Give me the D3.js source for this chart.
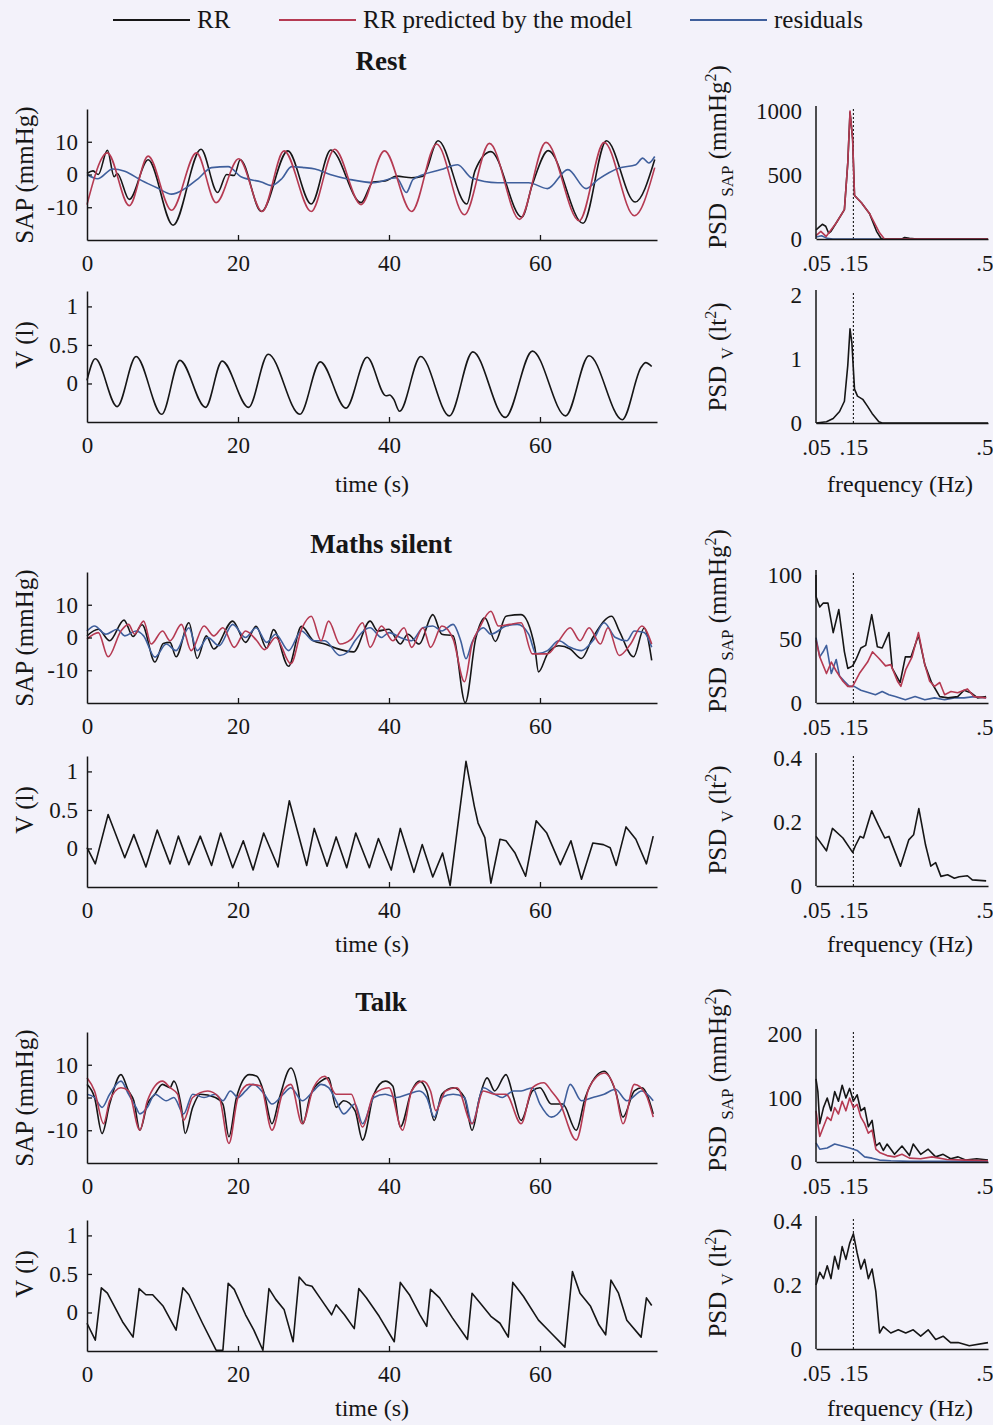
<!DOCTYPE html>
<html>
<head>
<meta charset="utf-8">
<script src="https://cdn.jsdelivr.net/npm/d3@7"></script>
<style>
  body { margin: 0; background: #f3f2fa; }
  svg { display: block; font-family: "Liberation Serif", "Times New Roman", serif; }
</style>
</head>
<body>
<div id="viz"></div>
<script>
// ---- data: [time (s), value] and [frequency (Hz), PSD] ----
var restSapRR = [[0,0.3],[0.8,1.1],[1.5,0],[2.7,7.4],[3.6,-0.7],[4.0,0.3],[5.6,-7.6],[8.1,4.5],[11.4,-15.5],[15.1,7.7],[17.3,-5.5],[18.5,0],[19.5,-0.3],[20.3,4.5],[23.1,-11.3],[26.6,7.2],[29.7,-9],[32.3,7.5],[36.3,-8.6],[37.9,-2.3],[39.5,-2.0],[41,-0.5],[43,-1],[44.5,-0.5],[46.5,10.3],[50.3,-9],[51.4,1.2],[53.5,7],[57.6,-13],[59,-3],[61.1,7.3],[65.7,-14.9],[68.8,10.3],[72.6,-8.4],[75.2,4.6]];
var restSapModel = [[0,-9.2],[2.7,6.6],[5.6,-9.5],[8.1,5.6],[11.2,-10.9],[14.5,6.6],[17.1,-8.6],[20.1,4.8],[23.2,-11.3],[26.1,7.2],[29.7,-11.3],[32.8,7.7],[36.3,-9.2],[39.4,7.2],[43,-11.3],[46.3,9.3],[50,-12.3],[53.3,9.5],[57.3,-13.7],[60.8,9.8],[65.2,-14.1],[68.5,9.8],[72.5,-12.6],[75.2,2.1]];
var restSapRes = [[0,0],[1.4,-1.3],[3.4,1.7],[5,1],[7.2,-1.8],[9.4,-4.2],[11.2,-6],[12.9,-4.4],[14.7,-1.3],[16.5,2.1],[18.7,2.4],[20.4,-0.7],[23.1,-2.3],[24.4,-3.4],[25.8,-1.3],[27.1,2.4],[28.8,2.1],[30.2,1.7],[32.2,0],[34.8,-1.5],[38,-2.5],[41,-1],[42.3,-5.5],[43.2,-1.5],[46.9,1.5],[49.1,3],[50.9,-1],[54.4,-2.5],[58.5,-2.5],[61,-4.3],[63.7,1.5],[66.1,-4.3],[67.7,-1.5],[70.5,2],[72.7,3],[73.6,5],[74.4,3.5],[75.2,5.5]];
var restV = [[0,0.04],[1.1,0.32],[4.0,-0.30],[6.5,0.35],[9.9,-0.40],[12.3,0.30],[15.7,-0.31],[17.9,0.29],[21.4,-0.31],[24,0.38],[28.2,-0.40],[30.9,0.28],[34.3,-0.32],[37.1,0.34],[39.6,-0.16],[40.1,-0.15],[40.6,-0.2],[41.4,-0.36],[44.2,0.35],[48,-0.42],[51.1,0.41],[55.4,-0.44],[59,0.42],[63.4,-0.42],[66.5,0.36],[70.9,-0.47],[73.4,0.21],[74,0.27],[74.8,0.22]];

var mathsSapRR = [[0,0.5],[1.5,2.5],[3,-1],[4.9,5.3],[6.1,0.3],[7.3,3.9],[9,-7.5],[10.1,-1.8],[11,-1.5],[11.8,-5.9],[13.5,4.5],[14.6,-6.4],[15.8,0.5],[16.8,-3.5],[19.3,5],[21,-1.5],[22.4,3.4],[23.8,-3.3],[24.7,2.4],[26.7,-8.8],[28.4,3.4],[30,-1],[31.5,-2],[33,-3.3],[35.3,-4.4],[37.5,5],[38.5,2],[40,2.5],[41.5,-2],[42.5,1],[44,-2],[45.8,7],[47,1],[48.5,0.5],[50.1,-19.9],[51.5,-0.2],[52.7,6],[54.1,-1.2],[55.5,6.5],[57.5,7],[59.3,-2.8],[59.8,-10.5],[61,-5],[62.5,-2.5],[64,-3.5],[65.5,-6.4],[67,0],[69.5,6.5],[70.5,2],[72.4,-5.9],[73.8,2.9],[74.8,-7]];
var mathsSapModel = [[0,-0.5],[1.5,1.5],[2.8,-5.9],[4.5,2],[5.5,4],[6.3,1],[7.5,5],[8.5,-2],[10,2],[11,-1],[12.5,4],[13.8,-4],[15.5,3.5],[16.8,0.5],[18,3],[19.5,-3],[21,2],[22.5,-1],[23.5,-3.7],[25,0],[27,-8],[28.5,3],[29.7,6.5],[31,-1],[32,5],[33.5,-2],[35,-0.5],[36.5,4.5],[37.5,-3],[39,3.5],[40.5,-1],[42,3],[43,-3],[44.5,3],[45.5,-3],[47,3.5],[48.5,-0.5],[50,-13.5],[51,-2],[52,3],[53.5,8],[54.5,3.5],[56,4],[57.5,4.5],[59,-5],[61,-5],[62.5,-1],[64,3],[65.3,-1],[66.5,3],[68,-2],[69,3],[70.5,-5.5],[72,-2],[73.5,3.5],[74.8,-2]];
var mathsSapRes = [[0,2],[1,3.5],[2.5,1],[4,2.5],[5,0.5],[6.5,2],[7.5,0.5],[9,-6],[10.5,-2],[11.8,-4],[13.5,3],[14.6,-4],[16,0],[17.5,-2.5],[19.3,4],[21,0],[22.4,3],[23.8,-1.5],[25,1],[26.7,-4],[28.4,2],[30,-1],[31.5,-1],[33.5,-5.5],[34.5,-4.5],[35.5,-1],[37.5,3],[39,0],[40,1.5],[41.5,0],[43,-1],[44.5,3],[45.8,3.5],[47,2],[48.5,4],[49.5,-1],[50.2,-6.5],[51,-1.5],[52.5,3],[53.5,1],[55.5,3.5],[57,4],[58.5,1],[59.5,-5],[61,-4],[62.5,-1],[64,-3],[65.5,-4],[67,-1],[68.5,4.5],[70,0],[71.5,-1],[72.5,2],[73.8,1.5],[74.8,-3]];
var mathsV = [[0,0.01],[1.1,-0.2],[2.8,0.44],[5,-0.12],[6.2,0.18],[7.8,-0.24],[9.3,0.24],[11,-0.2],[12.1,0.16],[13.5,-0.21],[15,0.16],[16.5,-0.22],[17.7,0.2],[19.3,-0.25],[20.7,0.1],[22,-0.28],[23.4,0.2],[25.3,-0.24],[26.8,0.62],[29.1,-0.22],[30.1,0.26],[31.8,-0.23],[33,0.15],[34.4,-0.25],[35.6,0.2],[37.4,-0.25],[38.6,0.13],[40.3,-0.28],[41.5,0.26],[43.3,-0.31],[44.4,0.05],[45.8,-0.37],[47.1,-0.06],[48.1,-0.48],[50.2,1.13],[51.3,0.55],[51.8,0.33],[52.7,0.14],[53.5,-0.45],[54.7,0.12],[55.5,0.1],[56.7,-0.06],[58.1,-0.36],[59.5,0.36],[60.9,0.2],[62.7,-0.21],[64.1,0.1],[65.5,-0.4],[67,0.07],[68.4,0.05],[69.3,0.01],[70.1,-0.22],[71.4,0.28],[72.7,0.12],[74.1,-0.2],[75,0.16]];

var talkSapRR = [[0,4],[1,0],[2,-11],[3,-2],[4.5,7],[5.5,2],[6.2,-1],[7,-10],[8,-2],[9,1],[10,4],[11,3],[11.5,5],[12.5,-3],[13,-11],[14,-3],[15,1],[17,0],[18,-2],[18.8,-12],[19.8,0],[21.5,7],[22.5,6.5],[23.5,1],[24.5,-8],[25.5,0],[27,9],[28,2],[28.6,-8],[29.5,0],[31,5],[32,6],[33,-3],[34,-1],[35.5,-4],[36.5,-13],[38,1],[39.5,5],[40.5,3.5],[41.5,-9],[43,2],[44,5],[45,2],[46,-7],[47,1],[48.5,3],[50,0],[51,-10],[52,0],[53,6],[54,2],[55.5,7],[56.5,0],[57.5,-7],[59,2],[60,3],[61.5,-2],[63,-2],[64.8,-10],[66,0],[68.5,8],[70,2],[71,-6],[72.5,2],[73.5,3],[75,-5]];
var talkSapModel = [[0,6],[1,2],[2.2,-8],[3,-1],[4.5,3],[5.5,2],[7,-10],[8,-1],[10,5],[11,3],[12,1],[12.8,-7],[14,0],[16,2],[17.5,0],[18.8,-14],[20,0],[21.5,4],[23,3.5],[24.5,-10],[26,2],[27,4],[28.5,-8],[30,3],[31.5,6.5],[33,1],[35,1],[36.5,-9],[38,1],[40,3],[41.8,-10],[43,2],[44.5,5],[45.5,2],[46.2,-4],[47.5,2],[49,3],[51,-8],[52.5,2],[54,1],[55.5,1],[57.5,-8],[59,3],[60.5,4.5],[61.5,2],[62.5,-1],[64.8,-13],[66.5,3],[68.5,7.5],[70,2],[71,-8],[72.5,4],[74,1],[75,-6]];
var talkSapRes = [[0,1],[1,0],[2,-3],[3,1],[4.5,5],[5.5,1],[6.5,-3],[7,-5],[8,-3],[9,1],[10.5,-1],[11.5,0],[12.8,-5],[14,1],[15.5,0],[17,1],[18,-1],[19,2],[20,0],[21,2],[22,4],[23.5,1],[24.5,-2],[26,1],[27,3],[28.5,-1],[30,2],[31,4],[32,3],[33,-1],[34,-5],[35.5,-2],[36.5,-8],[38,0],[39.5,1],[41,0],[42.5,1],[44,2],[45,0],[46,-6],[47,0],[48.5,1],[50,0],[51,-8],[52.5,3],[54,1],[55,0],[56.5,2],[57.5,2],[59,3],[60,-2],[61.5,-6],[63,-3],[64,4],[65.5,-1],[67,0],[68.5,1],[70,2.5],[71.5,-1],[73.5,2],[75,-1]];
var talkV = [[0,-0.14],[1.1,-0.36],[1.9,0.32],[2.7,0.25],[4.7,-0.12],[6.1,-0.32],[6.9,0.31],[7.8,0.23],[8.7,0.23],[10.1,0.08],[11.8,-0.23],[12.7,0.32],[13.5,0.23],[15.3,-0.14],[17.1,-0.49],[18,-0.49],[18.7,0.38],[19.5,0.3],[21,-0.03],[22.1,-0.23],[23.3,-0.49],[24.1,0.31],[25,0.17],[26.1,0.04],[27.3,-0.38],[28.1,0.46],[29,0.36],[29.8,0.34],[31,0.17],[32.4,-0.03],[33,0.1],[34.1,-0.03],[35.4,-0.21],[36,0.31],[37,0.19],[38.7,-0.05],[40.7,-0.38],[41.5,0.39],[42.7,0.23],[44.1,-0.03],[45,-0.18],[45.5,0.3],[46.7,0.19],[48.4,-0.07],[50.4,-0.35],[51,0.25],[52.1,0.12],[53.5,-0.05],[54.7,-0.14],[55.8,-0.32],[56.4,0.39],[57.8,0.21],[59.8,-0.1],[61.5,-0.27],[63.3,-0.45],[64.3,0.53],[65.3,0.25],[66.7,0.08],[67.8,-0.16],[68.7,-0.29],[69.4,0.42],[70.4,0.25],[71.5,-0.1],[73.4,-0.32],[74.1,0.19],[74.8,0.09]];

var restPsdSapRR = [[0.05,70],[0.059,95],[0.067,115],[0.076,100],[0.084,45],[0.09,60],[0.104,125],[0.126,230],[0.135,595],[0.141,990],[0.148,780],[0.153,340],[0.171,285],[0.193,200],[0.212,60],[0.225,0],[0.28,0],[0.287,12],[0.3,5],[0.32,0],[0.51,0]];
var restPsdSapModel = [[0.05,26],[0.063,60],[0.077,20],[0.104,125],[0.126,230],[0.135,595],[0.141,1000],[0.148,780],[0.153,340],[0.171,285],[0.193,200],[0.22,48],[0.233,0],[0.51,0]];
var restPsdSapRes = [[0.05,15],[0.065,25],[0.08,5],[0.095,0],[0.51,0]];
var restPsdV = [[0.05,0],[0.078,0.02],[0.096,0.07],[0.113,0.18],[0.126,0.34],[0.135,0.9],[0.141,1.47],[0.146,1.25],[0.153,0.53],[0.161,0.42],[0.175,0.37],[0.188,0.26],[0.2,0.15],[0.218,0.02],[0.227,0],[0.51,0]];

var mathsPsdSapRR = [[0.05,100],[0.0502,83],[0.06,75],[0.069,78],[0.082,78],[0.096,55],[0.111,73],[0.126,40],[0.135,27],[0.148,29],[0.157,34],[0.17,43],[0.183,45],[0.199,69],[0.214,44],[0.227,43],[0.245,55],[0.254,27],[0.275,16],[0.289,36],[0.304,36],[0.324,53],[0.341,30],[0.359,16],[0.381,5],[0.403,4],[0.429,5],[0.446,10],[0.464,8],[0.482,4],[0.505,5]];
var mathsPsdSapModel = [[0.05,49],[0.06,36],[0.078,23],[0.091,32],[0.104,25],[0.122,17],[0.135,13],[0.148,13],[0.166,23],[0.188,32],[0.201,40],[0.218,35],[0.236,29],[0.25,30],[0.268,17],[0.277,13],[0.29,26],[0.307,36],[0.324,55],[0.341,30],[0.354,17],[0.367,13],[0.381,16],[0.394,6.5],[0.411,9],[0.429,8],[0.446,10],[0.455,11],[0.473,5],[0.505,4]];
var mathsPsdSapRes = [[0.05,51],[0.06,36],[0.069,40],[0.078,45],[0.091,23],[0.104,34],[0.113,21],[0.126,17],[0.139,13],[0.152,13],[0.17,10],[0.192,8],[0.209,6.5],[0.227,9],[0.245,6.5],[0.262,5],[0.289,2.6],[0.315,5],[0.341,2.6],[0.367,4],[0.394,2.6],[0.42,4],[0.446,4],[0.473,5],[0.505,4]];
var mathsPsdV = [[0.05,0.155],[0.078,0.11],[0.094,0.18],[0.122,0.15],[0.148,0.105],[0.155,0.125],[0.168,0.155],[0.177,0.15],[0.199,0.235],[0.217,0.19],[0.234,0.15],[0.245,0.155],[0.276,0.062],[0.298,0.144],[0.311,0.16],[0.325,0.242],[0.343,0.128],[0.357,0.062],[0.37,0.073],[0.384,0.03],[0.402,0.035],[0.42,0.024],[0.433,0.029],[0.455,0.032],[0.468,0.019],[0.505,0.016]];

var talkPsdSapRR = [[0.05,130],[0.055,110],[0.06,60],[0.07,85],[0.08,100],[0.09,80],[0.1,110],[0.11,95],[0.12,120],[0.13,100],[0.14,115],[0.15,95],[0.16,105],[0.17,80],[0.18,85],[0.19,55],[0.2,65],[0.21,25],[0.22,30],[0.23,18],[0.24,28],[0.26,12],[0.28,25],[0.3,10],[0.31,28],[0.33,12],[0.35,20],[0.37,8],[0.39,12],[0.41,5],[0.43,8],[0.45,3],[0.48,5],[0.51,3]];
var talkPsdSapModel = [[0.05,80],[0.06,40],[0.07,55],[0.08,70],[0.09,65],[0.1,85],[0.11,75],[0.12,95],[0.13,80],[0.14,100],[0.15,85],[0.16,90],[0.17,70],[0.18,60],[0.19,45],[0.2,50],[0.21,20],[0.22,15],[0.24,10],[0.26,8],[0.28,12],[0.3,6],[0.33,5],[0.36,8],[0.4,4],[0.45,3],[0.51,2]];
var talkPsdSapRes = [[0.05,30],[0.06,20],[0.08,22],[0.1,28],[0.12,25],[0.14,22],[0.16,18],[0.18,8],[0.2,6],[0.22,3],[0.25,2],[0.3,1],[0.4,1],[0.51,1]];
var talkPsdV = [[0.05,0.2],[0.06,0.24],[0.07,0.22],[0.08,0.26],[0.09,0.22],[0.1,0.29],[0.11,0.25],[0.12,0.32],[0.13,0.28],[0.14,0.33],[0.15,0.36],[0.16,0.3],[0.17,0.25],[0.18,0.28],[0.19,0.22],[0.2,0.25],[0.21,0.18],[0.22,0.05],[0.23,0.07],[0.25,0.05],[0.27,0.06],[0.29,0.05],[0.31,0.06],[0.33,0.04],[0.35,0.06],[0.37,0.03],[0.39,0.04],[0.41,0.02],[0.43,0.02],[0.46,0.01],[0.51,0.02]];

var titles = ['Rest', 'Maths silent', 'Talk'];
var timeTicks = [0, 20, 40, 60];
var freqTicks = [0.05, 0.15, 0.5];
var freqTickLabels = ['.05', '.15', '.5'];
var sapTicks = [-10, 0, 10];
var vTicks = [0, 0.5, 1];
var legendNames = ['RR', 'RR predicted by the model', 'residuals'];

// ---- drawing ----
var W = 993, H = 1425,
    black = '#161616', red = '#b53a52', blue = '#3f5f9c',
    fontSize = 23;

var svg = d3.select('#viz').append('svg')
    .attr('width', W).attr('height', H);

svg.append('rect').attr('width', W).attr('height', H).attr('fill', '#f3f2fa');

var tX = d3.scaleLinear().domain([0, 75.5]).range([87, 657]);
var fX = d3.scaleLinear().domain([0.05, 0.51]).range([816, 988]);

function styleAxis(g) {
    g.select('.domain').attr('stroke', black).attr('stroke-width', 1.5);
    g.selectAll('.tick line').attr('stroke', black).attr('stroke-width', 1.3);
    g.selectAll('.tick text').attr('fill', black).attr('font-size', fontSize)
        .attr('font-family', '"Liberation Serif", serif');
}

function drawLines(g, x, y, list, curve) {
    list.forEach(function(s) {
        g.append('path')
            .datum(s.data)
            .attr('fill', 'none')
            .attr('stroke', s.color)
            .attr('stroke-width', s.w || 1.6)
            .attr('stroke-linejoin', 'round')
            .attr('d', d3.line().x(function(d) { return x(d[0]); })
                .y(function(d) { return y(d[1]); }).curve(curve));
    });
}

function timePanel(bottom, domain, ticks, fmt, list, curve) {
    var y = d3.scaleLinear().domain(domain).range([bottom, bottom - 131]);
    var g = svg.append('g');
    drawLines(g, tX, y, list, curve);

    var ya = g.append('g').attr('transform', 'translate(' + tX(0) + ',0)')
        .call(d3.axisLeft(y).tickValues(ticks).tickFormat(fmt)
            .tickSizeInner(-5).tickSizeOuter(0).tickPadding(9));
    styleAxis(ya);
    var xa = g.append('g').attr('transform', 'translate(0,' + bottom + ')')
        .call(d3.axisBottom(tX).tickValues(timeTicks)
            .tickSizeInner(-5).tickSizeOuter(0).tickPadding(15));
    styleAxis(xa);
    xa.selectAll('.tick line').filter(function(d) { return d === 0; }).remove();
    return y;
}

function psdPanel(bottom, maxTick, fmt, list) {
    var top = bottom - 133;
    var y = d3.scaleLinear().domain([0, maxTick]).range([bottom, top + 5]);
    var g = svg.append('g');

    g.append('line')
        .attr('x1', fX(0.15)).attr('x2', fX(0.15))
        .attr('y1', bottom).attr('y2', top + 2)
        .attr('stroke', black).attr('stroke-width', 1.1)
        .attr('stroke-dasharray', '2,2');

    drawLines(g, fX, y, list, d3.curveLinear);

    var ya = g.append('g').attr('transform', 'translate(' + fX(0.05) + ',0)')
        .call(d3.axisLeft(y).tickValues([0, maxTick / 2, maxTick]).tickFormat(fmt)
            .tickSize(0).tickPadding(14));
    styleAxis(ya);
    ya.select('.domain').remove();
    g.append('line').attr('x1', fX(0.05)).attr('x2', fX(0.05))
        .attr('y1', bottom).attr('y2', top)
        .attr('stroke', black).attr('stroke-width', 1.5);

    var xa = g.append('g').attr('transform', 'translate(0,' + bottom + ')')
        .call(d3.axisBottom(fX).tickValues(freqTicks)
            .tickFormat(function(d, i) { return freqTickLabels[i]; })
            .tickSize(0).tickPadding(16));
    styleAxis(xa);
}

function vLabel(x, y, parts) {
    var t = svg.append('text')
        .attr('transform', 'translate(' + x + ',' + y + ') rotate(-90)')
        .attr('text-anchor', 'middle')
        .attr('font-size', 25).attr('fill', black);
    parts.forEach(function(p) {
        t.append('tspan').text(p.s)
            .attr('font-size', p.size || 25)
            .attr('dy', p.dy || 0);
    });
}

function label(x, y, s, opts) {
    opts = opts || {};
    svg.append('text').attr('x', x).attr('y', y)
        .attr('text-anchor', 'middle')
        .attr('font-size', opts.size || 24)
        .attr('font-weight', opts.bold ? 'bold' : 'normal')
        .attr('fill', black).text(s);
}

var sapFmt = function(d) { return d === -10 ? '-10' : String(d); };
var vFmt = function(d) { return String(d); };
var smooth = d3.curveMonotoneX;

// rows
var rows = [
    { title: 70, foot: 492, sap: 240, v: 422, psdSap: 239, psdV: 423, sapMax: 1000, vMax: 2,
      sapData: [restSapRR, restSapModel, restSapRes], vData: restV,
      psdSapData: [restPsdSapRR, restPsdSapModel, restPsdSapRes], psdVData: restPsdV,
      sapCurve: smooth, vCurve: smooth },
    { title: 553, foot: 952, sap: 703, v: 887, psdSap: 703, psdV: 886, sapMax: 100, vMax: 0.4,
      sapData: [mathsSapRR, mathsSapModel, mathsSapRes], vData: mathsV,
      psdSapData: [mathsPsdSapRR, mathsPsdSapModel, mathsPsdSapRes], psdVData: mathsPsdV,
      sapCurve: smooth, vCurve: d3.curveLinear },
    { title: 1011, foot: 1416, sap: 1163, v: 1351, psdSap: 1162, psdV: 1349, sapMax: 200, vMax: 0.4,
      sapData: [talkSapRR, talkSapModel, talkSapRes], vData: talkV,
      psdSapData: [talkPsdSapRR, talkPsdSapModel, talkPsdSapRes], psdVData: talkPsdV,
      sapCurve: smooth, vCurve: d3.curveLinear }
];

rows.forEach(function(r, i) {
    timePanel(r.sap, [-20, 20], sapTicks, sapFmt, [
        { data: r.sapData[0], color: black },
        { data: r.sapData[2], color: blue },
        { data: r.sapData[1], color: red }
    ], r.sapCurve);
    timePanel(r.v, [-0.5, 1.2], vTicks, vFmt, [
        { data: r.vData, color: black }
    ], r.vCurve);

    psdPanel(r.psdSap, r.sapMax, function(d) { return String(d); }, [
        { data: r.psdSapData[2], color: blue },
        { data: r.psdSapData[0], color: black },
        { data: r.psdSapData[1], color: red }
    ]);
    psdPanel(r.psdV, r.vMax, function(d) { return String(d); }, [
        { data: r.psdVData, color: black }
    ]);

    label(381, r.title, titles[i], { bold: true, size: 27 });
    label(372, r.foot, 'time (s)');
    label(900, r.foot, 'frequency (Hz)');

    vLabel(33, r.sap - 65, [{ s: 'SAP (mmHg)' }]);
    vLabel(33, r.v - 77, [{ s: 'V (l)' }]);
    vLabel(726, r.psdSap - 82, [
        { s: 'PSD ' }, { s: 'SAP', size: 17, dy: 7 }, { s: ' (mmHg', dy: -7 },
        { s: '2', size: 16, dy: -10 }, { s: ')', dy: 10 }
    ]);
    vLabel(726, r.psdV - 66, [
        { s: 'PSD ' }, { s: 'V', size: 17, dy: 7 }, { s: ' (lt', dy: -7 },
        { s: '2', size: 16, dy: -10 }, { s: ')', dy: 10 }
    ]);
});

// legend
var legend = svg.append('g').attr('transform', 'translate(0,20)');
[[113, black], [279, red], [690, blue]].forEach(function(p, i) {
    legend.append('line').attr('x1', p[0]).attr('x2', p[0] + 77)
        .attr('stroke', p[1]).attr('stroke-width', 1.8);
    legend.append('text').attr('x', p[0] + 84).attr('y', 8)
        .attr('font-size', 25).attr('fill', black).text(legendNames[i]);
});
</script>
</body>
</html>
